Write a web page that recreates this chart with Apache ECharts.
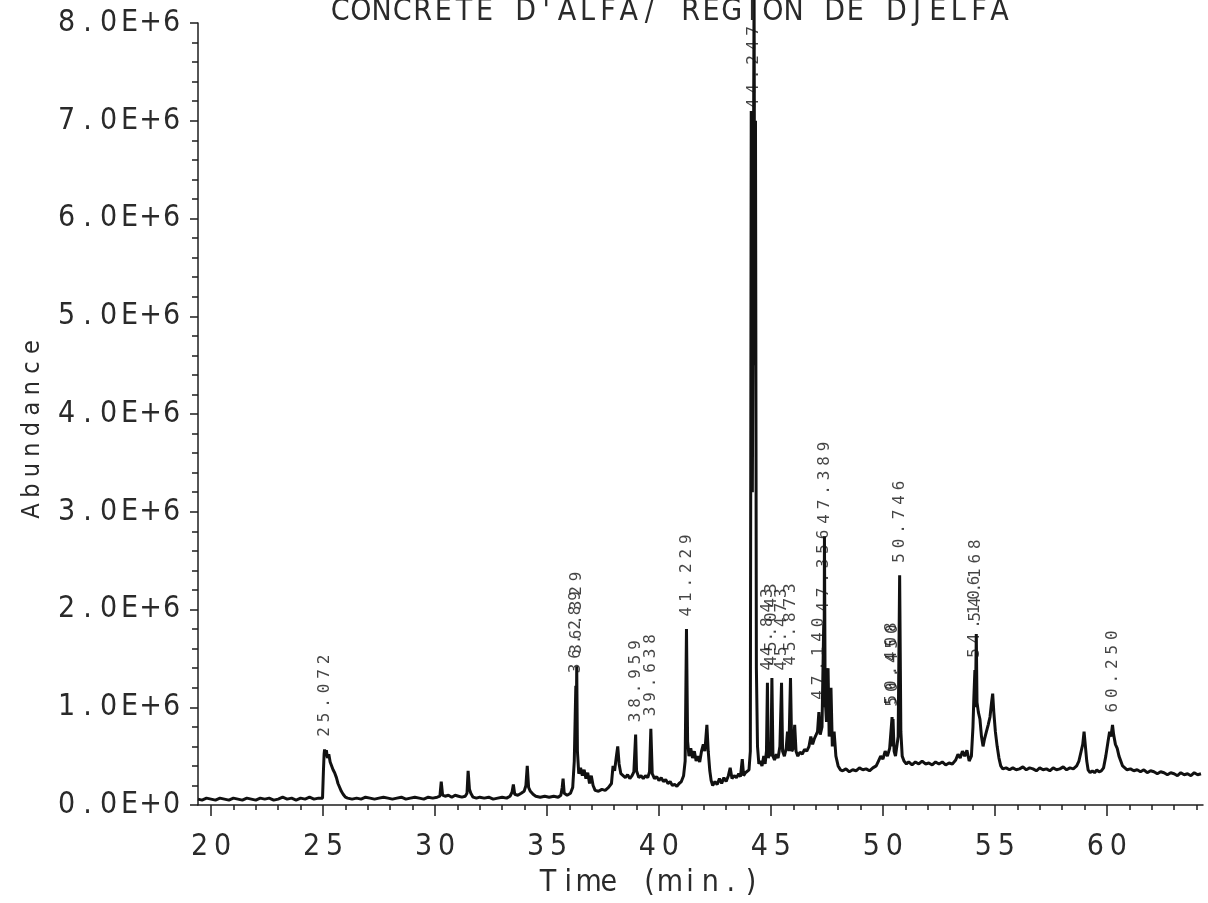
<!DOCTYPE html>
<html>
<head>
<meta charset="utf-8">
<script src="https://cdn.jsdelivr.net/npm/echarts@6/dist/echarts.min.js"></script>
<style>
  html, body { margin: 0; padding: 0; background: #fff; }
  #chart { width: 1208px; height: 903px; }
</style>
</head>
<body>
<div id="chart"></div>
<script>
// Total ion chromatogram of the alfa concrete (Djelfa region).
const chartTitle = "CONCRETE D'ALFA/ REGION DE DJELFA";
const xAxisTitle = 'Time (min.)';
const yAxisTitle = 'Abundance';

// Axis ticks: time in minutes, abundance in millions of counts.
const xTickValues = [20, 25, 30, 35, 40, 45, 50, 55, 60];
const yTickLabels = ['0.0E+0', '1.0E+6', '2.0E+6', '3.0E+6', '4.0E+6', '5.0E+6', '6.0E+6', '7.0E+6', '8.0E+6'];

// Integrated peaks: retention time, apex abundance (x1E6) and printed label.
const peakTimes   = [25.072, 36.289, 36.329, 38.959, 39.638, 41.229, 44.247, 44.843, 45.043, 45.473,
                     45.873, 47.140, 47.356, 47.389, 50.408, 50.450, 50.746, 54.106, 54.168, 60.250];
const peakHeights = [0.57, 1.22, 1.42, 0.72, 0.78, 1.80, 8.35, 1.25, 1.30, 1.25,
                     1.30, 0.95, 1.85, 2.75, 0.90, 0.88, 2.35, 1.38, 1.75, 0.82];
const peakLabels  = ['25.072', '36.289', '36.329', '38.959', '39.638', '41.229', '44.247', '44.843', '45.043', '45.473',
                     '45.873', '47.140', '47.356', '47.389', '50.408', '50.450', '50.746', '54.106', '54.168', '60.250'];

// Detector trace between the peak apexes: [time (min), abundance (x1E6)].
const tracePoints = [
  [19.42,0.06],[19.6,0.05],[19.8,0.07],[20.0,0.06],[20.2,0.05],[20.4,0.07],[20.6,0.06],[20.8,0.05],
  [21.0,0.07],[21.2,0.06],[21.4,0.05],[21.6,0.07],[21.8,0.06],[22.0,0.05],[22.2,0.07],[22.4,0.06],
  [22.6,0.07],[22.8,0.05],[23.0,0.06],[23.2,0.08],[23.4,0.06],[23.6,0.07],[23.8,0.05],[24.0,0.07],
  [24.2,0.06],[24.4,0.08],[24.6,0.06],[24.8,0.07],[24.98,0.07],
  [25.02,0.35],[25.05,0.52],[25.1,0.5],[25.15,0.56],[25.2,0.48],[25.26,0.52],[25.32,0.44],[25.38,0.46],
  [25.45,0.36],[25.52,0.33],[25.6,0.28],[25.67,0.22],[25.75,0.2],[25.82,0.14],[25.9,0.11],[26.0,0.08],
  [26.1,0.07],[26.3,0.06],[26.5,0.07],[26.7,0.06],[26.9,0.08],[27.1,0.07],[27.3,0.06],[27.5,0.07],
  [27.7,0.08],[27.9,0.07],[28.1,0.06],[28.3,0.07],[28.5,0.08],[28.7,0.06],[28.9,0.07],[29.1,0.08],
  [29.3,0.07],[29.5,0.06],[29.7,0.08],[29.9,0.07],[30.1,0.08],[30.22,0.09],[30.28,0.24],[30.34,0.1],
  [30.45,0.09],[30.6,0.1],[30.75,0.08],[30.9,0.1],[31.05,0.09],[31.2,0.08],[31.35,0.09],[31.43,0.12],
  [31.48,0.35],[31.54,0.16],[31.6,0.12],[31.7,0.08],[31.85,0.07],[32.0,0.08],[32.2,0.07],[32.4,0.08],
  [32.6,0.06],[32.8,0.07],[33.0,0.08],[33.2,0.07],[33.35,0.09],[33.44,0.13],[33.5,0.21],[33.56,0.11],
  [33.7,0.1],[33.85,0.12],[33.98,0.14],[34.06,0.2],[34.12,0.4],[34.18,0.18],[34.26,0.14],[34.38,0.11],
  [34.5,0.09],[34.7,0.08],[34.9,0.09],[35.1,0.08],[35.3,0.09],[35.5,0.08],[35.62,0.1],[35.68,0.18],
  [35.72,0.27],[35.77,0.12],[35.9,0.1],[36.05,0.12],[36.15,0.18],[36.22,0.45],[36.26,0.9],[36.31,0.75],
  [36.36,0.55],[36.42,0.32],[36.5,0.38],[36.58,0.3],[36.66,0.36],[36.74,0.27],[36.82,0.33],[36.9,0.22],
  [36.98,0.3],[37.06,0.2],[37.15,0.15],[37.3,0.14],[37.45,0.16],[37.6,0.15],[37.75,0.18],[37.88,0.22],
  [37.95,0.4],[38.02,0.35],[38.1,0.5],[38.16,0.6],[38.22,0.42],[38.3,0.32],[38.4,0.3],[38.5,0.28],
  [38.6,0.31],[38.7,0.27],[38.8,0.3],[38.88,0.34],[39.0,0.35],[39.1,0.28],[39.2,0.3],[39.3,0.27],
  [39.4,0.3],[39.5,0.28],[39.58,0.34],[39.7,0.32],[39.8,0.27],[39.9,0.29],[40.0,0.25],[40.1,0.28],
  [40.2,0.24],[40.3,0.26],[40.4,0.22],[40.5,0.24],[40.6,0.2],[40.7,0.21],[40.8,0.19],[40.9,0.22],
  [41.0,0.24],[41.1,0.3],[41.17,0.45],[41.28,0.65],[41.34,0.5],[41.42,0.58],[41.5,0.48],[41.58,0.55],
  [41.66,0.45],[41.74,0.5],[41.82,0.44],[41.9,0.55],[41.98,0.62],[42.05,0.55],[42.1,0.7],[42.14,0.82],
  [42.2,0.55],[42.27,0.35],[42.33,0.25],[42.4,0.2],[42.5,0.24],[42.6,0.21],[42.7,0.27],[42.8,0.22],
  [42.9,0.28],[43.0,0.24],[43.1,0.3],[43.18,0.38],[43.26,0.27],[43.36,0.3],[43.46,0.28],[43.56,0.32],
  [43.64,0.29],[43.72,0.47],[43.78,0.3],[43.86,0.33],[43.94,0.31],[44.02,0.36],[44.08,0.55],[44.12,7.1],
  [44.17,3.2],[44.28,4.5],[44.31,7.0],[44.35,1.4],[44.4,0.6],[44.46,0.42],[44.52,0.45],
  [44.6,0.4],[44.68,0.5],[44.74,0.42],[44.8,0.55],[44.88,0.48],[44.95,0.55],[45.0,0.5],[45.09,0.5],
  [45.16,0.46],[45.24,0.52],[45.32,0.48],[45.4,0.6],[45.52,0.55],[45.6,0.5],[45.68,0.58],[45.74,0.75],
  [45.8,0.55],[45.93,0.55],[46.0,0.58],[46.06,0.82],[46.12,0.55],[46.2,0.5],[46.3,0.54],[46.4,0.52],
  [46.5,0.57],[46.6,0.55],[46.7,0.6],[46.78,0.7],[46.86,0.62],[46.94,0.68],[47.02,0.66],[47.08,0.75],
  [47.2,0.72],[47.28,0.8],[47.37,1.0],[47.42,1.1],[47.48,0.85],[47.55,1.4],[47.6,0.7],[47.68,1.2],
  [47.74,0.6],[47.82,0.75],[47.9,0.5],[48.0,0.4],[48.1,0.36],[48.2,0.35],[48.35,0.37],[48.5,0.34],
  [48.65,0.36],[48.8,0.35],[48.95,0.38],[49.1,0.36],[49.25,0.37],[49.4,0.35],[49.55,0.38],[49.7,0.4],
  [49.8,0.45],[49.9,0.5],[50.0,0.47],[50.1,0.55],[50.2,0.5],[50.3,0.58],[50.36,0.6],[50.43,0.6],
  [50.5,0.55],[50.56,0.5],[50.62,0.6],[50.68,0.7],[50.8,0.75],[50.86,0.5],[50.94,0.45],[51.05,0.42],
  [51.15,0.44],[51.3,0.41],[51.45,0.44],[51.6,0.42],[51.75,0.45],[51.9,0.42],[52.05,0.43],[52.2,0.41],
  [52.35,0.44],[52.5,0.42],[52.65,0.44],[52.8,0.41],[52.95,0.43],[53.1,0.42],[53.25,0.46],[53.35,0.52],
  [53.45,0.48],[53.55,0.55],[53.65,0.5],[53.75,0.56],[53.85,0.45],[53.95,0.5],[54.02,0.8],[54.06,1.1],
  [54.13,1.0],[54.2,1.05],[54.26,0.95],[54.33,0.88],[54.4,0.7],[54.47,0.6],[54.54,0.68],[54.62,0.75],
  [54.7,0.82],[54.78,0.9],[54.85,1.05],[54.9,1.14],[54.95,0.95],[55.02,0.75],[55.1,0.6],[55.18,0.48],
  [55.26,0.4],[55.35,0.37],[55.5,0.38],[55.65,0.36],[55.8,0.38],[55.95,0.36],[56.1,0.37],[56.25,0.39],
  [56.4,0.36],[56.55,0.38],[56.7,0.37],[56.85,0.35],[57.0,0.38],[57.15,0.36],[57.3,0.37],[57.45,0.35],
  [57.6,0.38],[57.75,0.36],[57.9,0.37],[58.05,0.39],[58.2,0.36],[58.35,0.38],[58.5,0.37],[58.65,0.4],
  [58.75,0.45],[58.85,0.55],[58.92,0.62],[58.98,0.75],[59.04,0.6],[59.1,0.45],[59.16,0.36],[59.25,0.33],
  [59.35,0.35],[59.45,0.33],[59.55,0.36],[59.65,0.34],[59.75,0.35],[59.85,0.38],[59.95,0.5],[60.05,0.65],
  [60.12,0.75],[60.18,0.7],[60.3,0.72],[60.38,0.62],[60.46,0.58],[60.54,0.5],[60.62,0.48],[60.7,0.4],
  [60.8,0.38],[60.9,0.36],[61.05,0.37],[61.2,0.35],[61.35,0.36],[61.5,0.34],[61.65,0.36],[61.8,0.33],
  [61.95,0.35],[62.1,0.34],[62.25,0.32],[62.4,0.34],[62.55,0.33],[62.7,0.31],[62.85,0.33],[63.0,0.32],
  [63.15,0.3],[63.3,0.33],[63.45,0.31],[63.6,0.32],[63.75,0.3],[63.9,0.33],[64.05,0.31],[64.2,0.32]
];

const FONT = "'DejaVu Sans Condensed', 'DejaVu Sans Mono', monospace";
const PEAK_FONT = "'DejaVu Sans Mono', monospace";
const INK = '#2a2a2a';
const AXIS_INK = '#1e1e1e';
const X_MIN = 19.42, X_MAX = 64.29, Y_MAX = 8;
// Labels of off-scale peaks are parked one unit below the top of the plot.
const LABEL_CEILING = Y_MAX - 1;

// Plotter-style lettering: every character sits in a fixed-width cell.
function cells(text, key) {
  return text.split('').map(function (ch) { return '{' + key + '|' + ch + '}'; }).join('');
}
function cellStyle(size, width, family, color) {
  return {
    fontSize: size, width: width, align: 'center', fontWeight: 'normal',
    fontFamily: family || FONT, color: color || INK, lineHeight: size + 2
  };
}

const minorXTicks = [];
for (let m = 20; m <= 64; m++) minorXTicks.push(m);

const traceData = tracePoints
  .concat(peakTimes.map(function (t, i) { return [t, peakHeights[i]]; }))
  .sort(function (a, b) { return a[0] - b[0]; });
const labelAnchors = peakTimes.map(function (t, i) { return [t, Math.min(peakHeights[i], LABEL_CEILING)]; });

const axisLineStyle = { color: AXIS_INK, width: 1.5 };

const chart = echarts.init(document.getElementById('chart'), null, { renderer: 'canvas' });
chart.setOption({
  animation: false,
  backgroundColor: '#ffffff',
  title: {
    text: cells(chartTitle, 'c'),
    left: 325,
    top: -9,
    textStyle: { fontWeight: 'normal', rich: { c: cellStyle(30, 20.6) } }
  },
  grid: { left: 198, right: 5, top: 23, bottom: 94, containLabel: false },
  xAxis: [
    {
      type: 'value', min: X_MIN, max: X_MAX, position: 'bottom',
      axisLine: { show: true, lineStyle: axisLineStyle },
      axisTick: { show: true, customValues: minorXTicks, length: 5, lineStyle: axisLineStyle },
      axisLabel: {
        customValues: xTickValues, margin: 26,
        formatter: function (v) { return cells(String(v), 'x'); },
        rich: { x: cellStyle(30, 23) }
      },
      splitLine: { show: false },
      name: cells(xAxisTitle, 'n'),
      nameLocation: 'middle',
      nameGap: 62,
      nameTextStyle: { rich: { n: cellStyle(30, 20.3) }, padding: [0, 102, 0, 0] }
    },
    {
      type: 'value', min: X_MIN, max: X_MAX, position: 'bottom',
      axisLine: { show: false },
      axisTick: { show: true, customValues: xTickValues, length: 11, lineStyle: axisLineStyle },
      axisLabel: { show: false },
      splitLine: { show: false }
    }
  ],
  yAxis: {
    type: 'value', min: 0, max: Y_MAX, interval: 1,
    axisLine: { show: true, lineStyle: axisLineStyle },
    axisTick: { show: true, length: 8, lineStyle: axisLineStyle },
    minorTick: { show: true, splitNumber: 5, length: 6, lineStyle: axisLineStyle },
    splitLine: { show: false },
    minorSplitLine: { show: false },
    axisLabel: {
      margin: 16,
      formatter: function (v) { return cells(yTickLabels[Math.round(v)], 'y'); },
      rich: { y: cellStyle(30, 21) }
    },
    name: cells(yAxisTitle, 'a'),
    nameLocation: 'middle',
    nameRotate: 90,
    nameGap: 150,
    nameTextStyle: { rich: { a: cellStyle(25, 20.5) }, padding: [0, 30, 0, 0] }
  },
  series: [
    {
      name: 'TIC',
      type: 'line',
      xAxisIndex: 0,
      data: traceData,
      symbol: 'none',
      showSymbol: false,
      clip: false,
      silent: true,
      z: 2,
      lineStyle: { color: '#111111', width: 3 }
    },
    {
      name: 'Peak labels',
      type: 'scatter',
      xAxisIndex: 0,
      data: labelAnchors,
      symbolSize: 0,
      silent: true,
      z: 3,
      label: {
        show: true,
        position: 'top',
        distance: 10,
        rotate: 90,
        align: 'left',
        verticalAlign: 'middle',
        formatter: function (p) { return cells(peakLabels[p.dataIndex], 'p'); },
        rich: { p: cellStyle(16, 14.5, PEAK_FONT, '#151515') }
      }
    }
  ]
});
</script>
</body>
</html>
